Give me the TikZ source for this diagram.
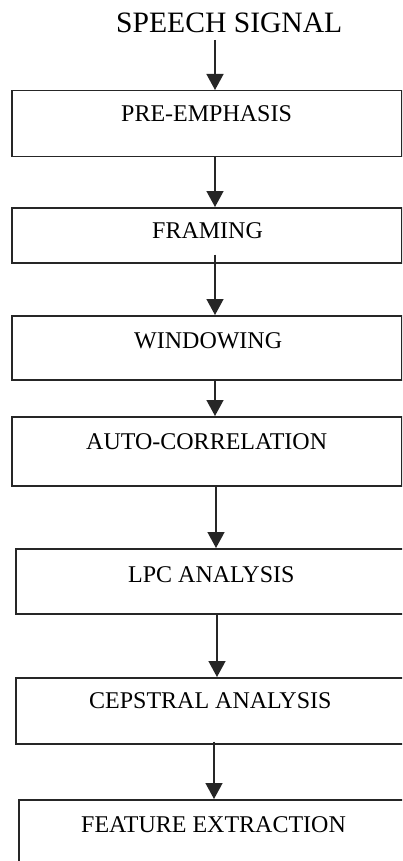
\documentclass[tikz,border=0pt]{standalone}
\usepackage{fontspec}
\setmainfont{Liberation Serif}
\usetikzlibrary{arrows.meta}
\tikzset{
  stepbox/.style={draw=black!85, line width=1.5pt, rectangle, inner sep=0pt, anchor=north west},
  lbl/.style={anchor=base west, inner sep=0pt, font=\fontsize{24}{24}\selectfont},
  arr/.style={draw=black!85, line width=1.5pt, -{Triangle[length=16pt,width=17pt]}}
}
\begin{document}
\begin{tikzpicture}[x=1pt,y=-1pt]
\useasboundingbox (0,0) rectangle (402,861);
\clip (0,0) rectangle (402,861);
% title
\node[anchor=base west, inner sep=0pt, font=\fontsize{29.6}{29.6}\selectfont] (title) at (116,33) {SPEECH SIGNAL};
% boxes
\node[stepbox, minimum width=390pt, minimum height=66pt] (b1) at (11,90) {};
\node[stepbox, minimum width=390pt, minimum height=55pt] (b2) at (11,207) {};
\node[stepbox, minimum width=390pt, minimum height=64pt] (b3) at (11,315) {};
\node[stepbox, minimum width=390pt, minimum height=69pt] (b4) at (11,416) {};
\node[stepbox, minimum width=400pt, minimum height=65pt] (b5) at (15,548) {};
\node[stepbox, minimum width=400pt, minimum height=66pt] (b6) at (15,677) {};
\node[stepbox, minimum width=400pt, minimum height=80pt] (b7) at (18,799) {};
% labels
\node[lbl] (t1) at (121,122) {PRE-EMPHASIS};
\node[lbl] (t2) at (152,238) {FRAMING};
\node[lbl] (t3) at (134,348) {WINDOWING};
\node[lbl] (t4) at (86,449) {AUTO-CORRELATION};
\node[lbl] (t5) at (128,582) {LPC ANALYSIS};
\node[lbl] (t6) at (89,708) {CEPSTRAL ANALYSIS};
\node[lbl] (t7) at (81,832) {FEATURE EXTRACTION};
% connector x positions
\coordinate (c0) at (215,40);
\coordinate (xa) at (215,0);
\coordinate (xb) at (216,0);
\coordinate (xc) at (217,0);
\coordinate (xd) at (214,0);
% connectors
\draw[arr] (c0) -- (c0 |- b1.north);
\draw[arr] (b1.south -| xa) -- (b2.north -| xa);
\draw[arr] ([yshift=9pt]b2.south -| xa) -- (b3.north -| xa);
\draw[arr] (b3.south -| xa) -- (b4.north -| xa);
\draw[arr] (b4.south -| xb) -- (b5.north -| xb);
\draw[arr] (b5.south -| xc) -- (b6.north -| xc);
\draw[arr] ([yshift=3pt]b6.south -| xd) -- (b7.north -| xd);
\end{tikzpicture}
\end{document}
